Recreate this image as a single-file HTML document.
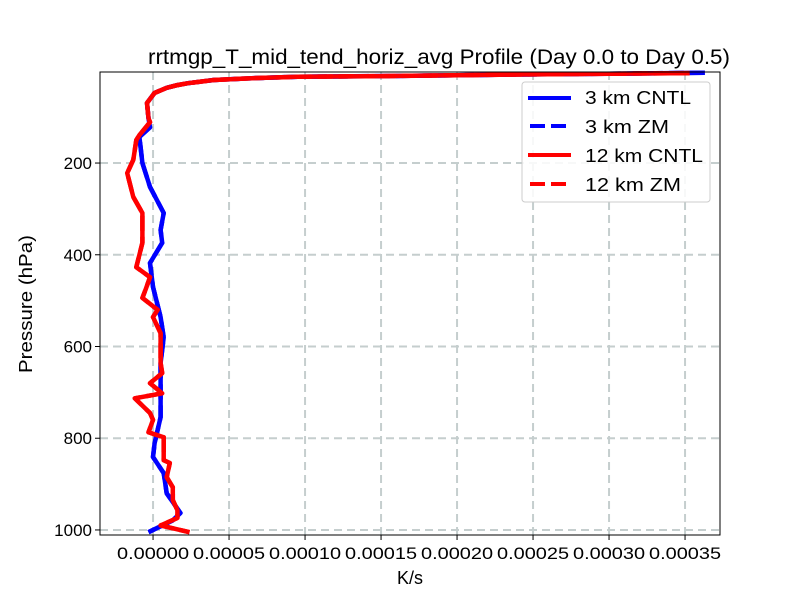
<!DOCTYPE html>
<html><head><meta charset="utf-8"><style>
body{margin:0;background:#fff;}
svg text{font-family:"Liberation Sans","DejaVu Sans",sans-serif;}
</style></head><body>
<svg id="chart" width="800" height="600" viewBox="0 0 800 600" xmlns="http://www.w3.org/2000/svg">
<rect width="800" height="600" fill="#fff"/>
<g id="grid"></g>
<g id="series"></g>
<rect x="100" y="72" width="620" height="463" fill="none" stroke="#000" stroke-width="1"/>
<g id="axes"></g>
<text x="439" y="64" font-size="21" text-anchor="middle" textLength="582" lengthAdjust="spacingAndGlyphs">rrtmgp_T_mid_tend_horiz_avg Profile (Day 0.0 to Day 0.5)</text>
<text x="410" y="584" font-size="18" text-anchor="middle">K/s</text>
<text x="32" y="304" font-size="18" text-anchor="middle" textLength="138" lengthAdjust="spacingAndGlyphs" transform="rotate(-90 32 304)">Pressure (hPa)</text>
<g>
<rect x="522" y="82" width="188" height="120" rx="3" fill="#fff" fill-opacity="0.85" stroke="#ccc"/>
<g><line x1="528" y1="98" x2="571" y2="98" stroke="#0000ff" stroke-width="4"/><text x="585" y="104" font-size="18" textLength="106" lengthAdjust="spacingAndGlyphs">3 km CNTL</text></g>
<g><line x1="530" y1="126" x2="571" y2="126" stroke="#0000ff" stroke-width="4" stroke-dasharray="15,6"/><text x="585" y="133" font-size="18" textLength="84" lengthAdjust="spacingAndGlyphs">3 km ZM</text></g>
<g><line x1="528" y1="155" x2="571" y2="155" stroke="#ff0000" stroke-width="4"/><text x="585" y="162" font-size="18" textLength="118" lengthAdjust="spacingAndGlyphs">12 km CNTL</text></g>
<g><line x1="530" y1="184" x2="571" y2="184" stroke="#ff0000" stroke-width="4" stroke-dasharray="15,6"/><text x="585" y="191" font-size="18" textLength="96" lengthAdjust="spacingAndGlyphs">12 km ZM</text></g>
</g>
</svg>
<script>
// values in units of 1e-5 K/s
const xTicks = [0, 5, 10, 15, 20, 25, 30, 35];
const xTickLabels = ["0.00000","0.00005","0.00010","0.00015","0.00020","0.00025","0.00030","0.00035"];
const yTicks = [200, 400, 600, 800, 1000];
const p3 = [3,5,7,10,12,15,19,26,30,36,47,69,102,122,143,200,252,309,346,374,418,470,536,580,636,695,754,811,841,876,920,963,979,1005];
const v3 = [36.3,31,24,16.3,9.5,6.5,4.0,2.3,1.6,0.9,0.1,-0.4,-0.3,-0.2,-0.9,-0.7,-0.2,0.7,0.5,0.6,-0.2,0,0.5,0.7,0.5,0.5,0.5,0.1,0,0.7,0.9,1.8,1.3,-0.3];
const p12 = [4,5,7,10,12,15,19,26,30,36,47,69,102,111,139,150,193,222,274,309,346,374,427,449,477,494,520,536,571,636,658,680,702,713,745,760,787,798,848,854,885,907,935,957,974,990,1005];
const v12 = [35.3,31,24,16.3,9.5,6.5,4.0,2.3,1.6,0.9,0.1,-0.4,-0.3,-0.2,-0.9,-1.1,-1.3,-1.7,-1.3,-0.7,-0.7,-0.7,-1.1,-0.2,-0.5,-0.7,0.3,0,0.5,0.5,0.6,-0.2,0.6,-1.2,-0.2,0,-0.3,0.7,0.7,1.1,0.9,1.3,1.3,1.6,1.6,0.5,2.4];
const pZM3 = p3, vZM3 = v3, pZM12 = p12, vZM12 = v12;

const X0=100,X1=720,Y0=72,Y1=535;
const xMin=-3.49,xMax=37.3,pTop=1.5,pBot=1011;
const xs = v => X0 + (v-xMin)/(xMax-xMin)*(X1-X0);
const ys = p => Y0 + (p-pTop)/(pBot-pTop)*(Y1-Y0);
const NS="http://www.w3.org/2000/svg";
const grid=document.getElementById('grid'), axes=document.getElementById('axes'), ser=document.getElementById('series');
function mk(tag,attrs,parent){const e=document.createElementNS(NS,tag);for(const k in attrs)e.setAttribute(k,attrs[k]);parent.appendChild(e);return e;}
xTicks.forEach((t,i)=>{
  const x=xs(t);
  const g=mk('line',{x1:x,x2:x,y1:Y0,y2:Y1,stroke:'#c5cece','stroke-width':2,'stroke-dasharray':'8,5'},grid);
  
  
  const tk=mk('line',{x1:x,x2:x,y1:Y1,y2:Y1+5,stroke:'#000'},axes);
  
  
  const tx=mk('text',{x:x,y:Y1+24,'font-size':17,'text-anchor':'middle',textLength:72,lengthAdjust:'spacingAndGlyphs'},axes);
  tx.textContent=xTickLabels[i];
  
  
});
yTicks.forEach(t=>{
  const y=ys(t);
  const g=mk('line',{x1:X0,x2:X1,y1:y,y2:y,stroke:'#c5cece','stroke-width':2,'stroke-dasharray':'8,5'},grid);
  
  
  const tk=mk('line',{x1:X0-5,x2:X0,y1:y,y2:y,stroke:'#000'},axes);
  
  
  const tx=mk('text',{x:X0-8,y:y+6,'font-size':17,'text-anchor':'end'},axes);
  tx.textContent=String(t);
  
  
});
function line(ps,vs,color,dash,name){
  const d=ps.map((p,i)=>(i?'L':'M')+xs(vs[i]).toFixed(1)+','+ys(p).toFixed(1)).join(' ');
  const a={d:d,fill:'none',stroke:color,'stroke-width':4.5,'stroke-linejoin':'round'};
  if(dash)a['stroke-dasharray']=dash;
  const e=mk('path',a,ser);
  
  
}
line(p3,v3,'#0000ff',null,'line-3km-cntl');
line(pZM3,vZM3,'#0000ff','15,6','line-3km-zm');
line(p12,v12,'#ff0000',null,'line-12km-cntl');
line(pZM12,vZM12,'#ff0000','15,6','line-12km-zm');
</script>
</body></html>
